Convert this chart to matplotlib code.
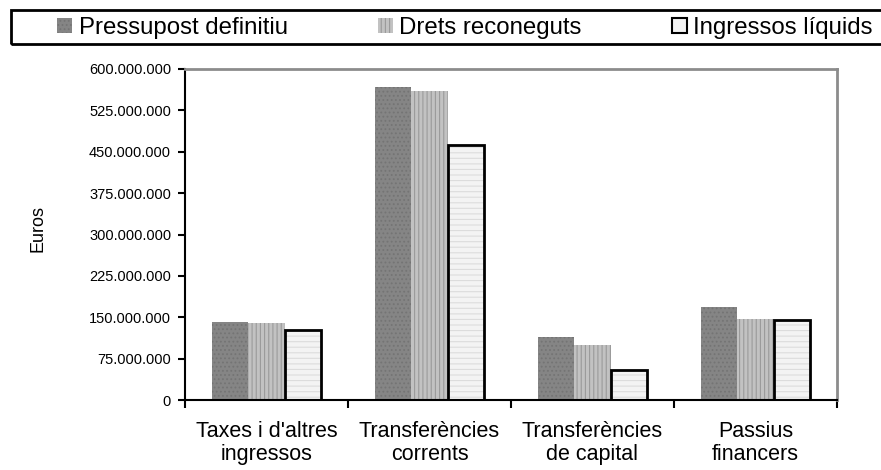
import numpy as np
import matplotlib
matplotlib.use("Agg")
import matplotlib.pyplot as plt
from matplotlib.patches import Patch, Rectangle
from matplotlib.ticker import FuncFormatter

plt.rcParams['font.family'] = ['Liberation Sans', 'DejaVu Sans']
plt.rcParams['hatch.linewidth'] = 0.8

# --- data ---
categories = ["Taxes i d'altres\ningressos", "Transferències\ncorrents",
              "Transferències\nde capital", "Passius\nfinancers"]
series_names = ["Pressupost definitiu", "Drets reconeguts", "Ingressos líquids"]
pressupost = [141_000_000, 567_000_000, 115_000_000, 169_000_000]
drets = [140_000_000, 561_000_000, 100_000_000, 146_500_000]
liquids = [127_000_000, 462_000_000, 54_500_000, 145_000_000]
y_ticks = np.arange(0, 600_000_001, 75_000_000)

W, H = 881, 470
fig = plt.figure(figsize=(W / 100, H / 100), dpi=100)
ax = fig.add_axes([185 / W, 1 - 400 / H, (837 - 185) / W, (400 - 69) / H])

x = np.arange(len(categories))
w = 0.222

# bars - textures faked with hatches, edge line off so only hatch shows
ax.bar(x - w, pressupost, w, color='#858585', edgecolor='#747474',
       hatch='....', linewidth=0, zorder=2)
ax.bar(x, drets, w, color='#c2c2c2', edgecolor='#9a9a9a',
       hatch='||||', linewidth=0, zorder=2)
ax.bar(x + w, liquids, w, color='#f3f3f3', edgecolor='#dcdcdc',
       hatch='---', linewidth=0, zorder=2)
# black outline for the last series
ax.bar(x + w, liquids, w, fill=False, edgecolor='black', linewidth=2, zorder=3)

ax.set_xlim(-0.5, len(categories) - 0.5)
ax.set_ylim(0, 600_000_000)

ax.set_yticks(y_ticks)
ax.yaxis.set_major_formatter(FuncFormatter(lambda v, p: f"{int(v):,}".replace(',', '.')))
ax.tick_params(axis='y', length=5, width=1.5, pad=5, labelsize=10.5, direction='out')

# boundary ticks (major) + centred labels (minor)
ax.set_xticks(np.arange(-0.5, len(categories), 1))
ax.set_xticklabels([])
ax.set_xticks(x, minor=True)
ax.set_xticklabels(categories, minor=True, fontsize=15.5, linespacing=1.15)
ax.tick_params(axis='x', which='major', length=6, width=1.5, direction='out')
ax.tick_params(axis='x', which='minor', length=0, pad=15)

for side in ['left', 'bottom']:
    ax.spines[side].set_color('black')
    ax.spines[side].set_linewidth(1.5)
for side in ['top', 'right']:
    ax.spines[side].set_color('#8c8c8c')
    ax.spines[side].set_linewidth(2)

fig.text(38 / W, 1 - 228 / H, 'Euros', rotation=90, fontsize=13,
         ha='center', va='center')

# legend row with its own frame across the top
fig.patches.append(Rectangle((11 / W, 1 - 44 / H), (W + 5 - 11) / W, 34 / H,
                             transform=fig.transFigure, fill=False,
                             edgecolor='black', linewidth=2))
handles = [
    Patch(facecolor='#858585', edgecolor='#747474', hatch='....', linewidth=0),
    Patch(facecolor='#c2c2c2', edgecolor='#9a9a9a', hatch='||||', linewidth=0),
    Patch(facecolor='#f3f3f3', edgecolor='black', linewidth=1.5),
]
fig.legend(handles, series_names, loc='center left',
           bbox_to_anchor=(57 / W, 1 - 28 / H), ncol=3, frameon=False,
           fontsize=17.3, handlelength=0.62, handleheight=0.62,
           handletextpad=0.28, columnspacing=3.75, borderpad=0, borderaxespad=0)

fig.savefig('out.png', dpi=100)
